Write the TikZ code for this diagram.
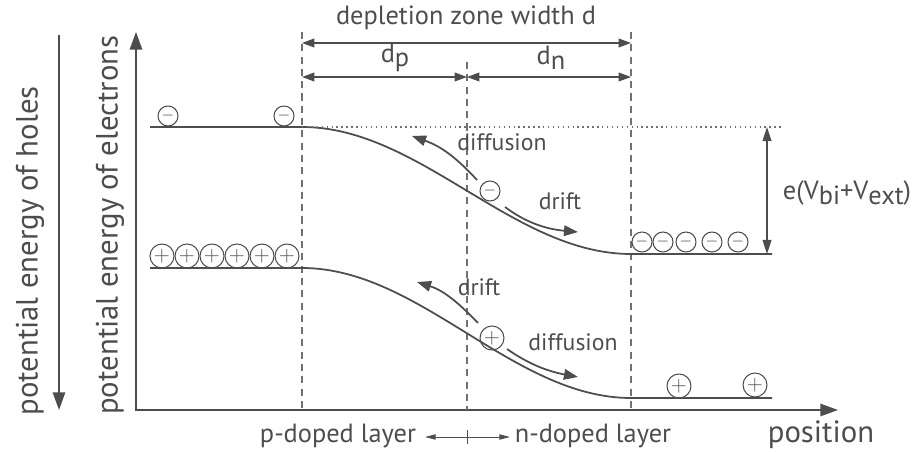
\documentclass[tikz,border=0pt]{standalone}
\usepackage{fontspec}
\setmainfont{PT Sans}
\usetikzlibrary{arrows.meta,positioning}
\definecolor{ink}{HTML}{4D4D4D}
\tikzset{
  band/.style={draw=ink,line width=1pt},
  axis/.style={draw=ink,line width=1pt,{Triangle[length=10pt,width=7pt]}-{Triangle[length=10pt,width=7pt]}},
  guide/.style={draw=ink!80,line width=0.6pt,dash pattern=on 4pt off 3pt},
  dim/.style={draw=ink,line width=0.6pt,{Triangle[length=7pt,width=5pt]}-{Triangle[length=7pt,width=5pt]}},
  flow/.style={draw=ink,line width=1pt,-{Triangle[length=8pt,width=6pt]}},
  elec/.style={circle,draw=ink,line width=0.6pt,minimum size=0.4cm,inner sep=0pt,text=ink,font=\small},
  hole/.style={elec,minimum size=0.48cm,font=\large},
  lbl/.style={text=ink,font=\fontsize{15}{17}\selectfont,inner sep=1pt},
  small lbl/.style={lbl,font=\fontsize{13.5}{16}\selectfont},
  big lbl/.style={lbl,font=\fontsize{17.5}{20}\selectfont},
}
\newcommand{\sub}[1]{\raisebox{-0.35ex}{#1}}
\begin{document}
\begin{tikzpicture}[x=0.02cm,y=-0.02cm]
\useasboundingbox (0,0) rectangle (917,452);

% axes
\coordinate (ytop) at (136,32);
\coordinate (xend) at (838,410);
\draw[axis] (ytop) |- (xend);
\coordinate (htop) at (59,35);
\coordinate (hbot) at (59,410);
\draw[draw=ink,line width=1pt,-{Triangle[length=10pt,width=7pt]}] (htop) -- (hbot);
\node[big lbl,rotate=90] (lholes) at (30,251) {potential energy of holes};
\node[big lbl,rotate=90] (lelec) at (110,225) {potential energy of electrons};
\node[big lbl] (lpos) at (821,435) {position};

% zone borders
\coordinate (pt) at (302,32);  \coordinate (pb) at (302,410);
\coordinate (mt) at (467,62);  \coordinate (mb) at (467,410);
\coordinate (nt) at (631,32);  \coordinate (nb) at (631,410);
\draw[guide] (pt) -- (pb);
\draw[guide] (mt) -- (mb);
\draw[guide] (nt) -- (nb);

% widths
\coordinate (w1) at (302,43); \coordinate (w2) at (631,43);
\draw[dim] (w1) -- (w2);
\node[lbl] (lwidth) at (466,18) {depletion zone width d};
\coordinate (dp1) at (302,77); \coordinate (dp2) at (467,77); \coordinate (dn2) at (631,77);
\draw[dim] (dp1) -- (dp2);
\draw[dim] (dp2) -- (dn2);
\node[lbl] (ldp) at (395,58) {d\sub{p}};
\node[lbl] (ldn) at (551,58) {d\sub{n}};

% conduction band
\coordinate (c0) at (150,127); \coordinate (c1) at (302,127);
\coordinate (c2) at (631,254); \coordinate (c3) at (772,254);
\draw[band] (c0) -- (c1) .. controls (420,127) and (513,254) .. (c2) -- (c3);
\coordinate (cdot) at (782,127);
\draw[draw=ink!80,line width=0.8pt,dotted] (c1) -- (cdot);
\coordinate (e1) at (767,127); \coordinate (e2) at (767,254);
\draw[draw=ink,line width=0.8pt,{Triangle[length=8pt,width=5pt]}-{Triangle[length=8pt,width=5pt]}] (e1) -- (e2);
\node[lbl] (lvolt) at (847,193) {e(V\sub{bi}+V\sub{ext})};

% valence band
\coordinate (v0) at (150,268); \coordinate (v1) at (302,268);
\coordinate (v2) at (631,398); \coordinate (v3) at (772,398);
\draw[band] (v0) -- (v1) .. controls (420,268) and (513,398) .. (v2) -- (v3);

% carriers
\node[elec] (el1) at (168,116) {$-$};
\node[elec] (el2) at (284,116) {$-$};
\node[elec] (elm) at (490,191) {$-$};
\foreach \x [count=\i] in {642,663,686,712,738}
  \node[elec] (er\i) at (\x,242) {$-$};
\foreach \x [count=\i] in {162,187,212,237,262,287}
  \node[hole] (hl\i) at (\x,256) {$+$};
\node[hole] (hm) at (492,338) {$+$};
\node[hole] (hr1) at (679,386) {$+$};
\node[hole] (hr2) at (755,385) {$+$};

% currents
\coordinate (fa0) at (477,180); \coordinate (fa1) at (412,136);
\draw[flow] (fa0) .. controls (455,156) and (440,146) .. (fa1);
\node[small lbl] (ldiff1) at (502,142) {diffusion};
\coordinate (fb0) at (505,207); \coordinate (fb1) at (578,232);
\draw[flow] (fb0) .. controls (525,222) and (545,229) .. (fb1);
\node[small lbl] (ldrift1) at (560,201) {drift};
\coordinate (fc0) at (478,323); \coordinate (fc1) at (417,282);
\draw[flow] (fc0) .. controls (456,300) and (442,290) .. (fc1);
\node[small lbl] (ldrift2) at (479,287) {drift};
\coordinate (fd0) at (507,349); \coordinate (fd1) at (578,377);
\draw[flow] (fd0) .. controls (527,363) and (546,371) .. (fd1);
\node[small lbl] (ldiff2) at (573,342) {diffusion};

% layers
\node[lbl] (lp) at (338,436) {p-doped layer};
\node[lbl] (ln) at (593,436) {n-doped layer};
\coordinate (lm) at (467,437);
\coordinate (la) at (425,437); \coordinate (lb) at (510,437);
\draw[draw=ink,line width=0.5pt,-{Triangle[length=6pt,width=3pt]}] (lm) -- (la);
\draw[draw=ink,line width=0.5pt,-{Triangle[length=6pt,width=3pt]}] (lm) -- (lb);
\draw[draw=ink,line width=0.5pt] ([yshift=-4pt]lm) -- ([yshift=4pt]lm);
\end{tikzpicture}
\end{document}
